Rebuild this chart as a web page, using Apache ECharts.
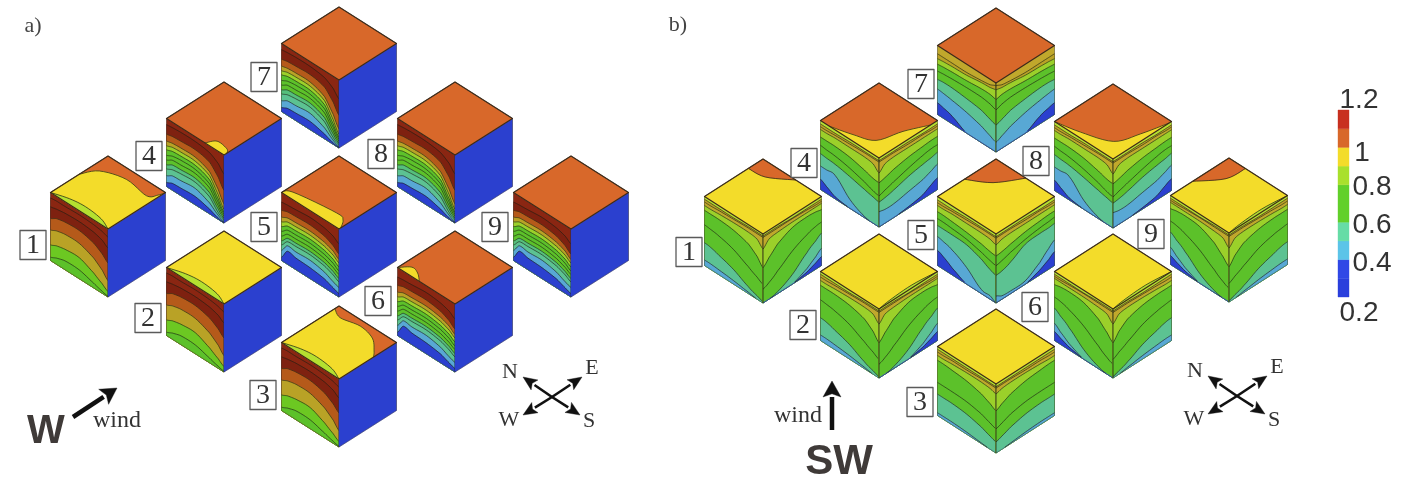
<!DOCTYPE html>
<html><head><meta charset="utf-8">
<style>html,body{margin:0;padding:0;background:#fff}#c{width:1405px;height:479px}</style>
<script src="https://cdn.jsdelivr.net/npm/echarts@6/dist/echarts.min.js"></script>
</head><body><div id="c"></div>
<script>
// ---- palette
const RED='#8a2612', RED2='#7e2110', BROWN='#b55a1a', OLIVE='#b9a226', GOLD='#c0a82c', LIME='#9bd02a', LIME2='#b4e030',
      GREEN='#5cc12a', GREEN2='#6cc822', TEAL='#55bf7c', MINT='#5cc292', SKY='#58a8d4', BLUE='#2b40cf', ORANGE='#d8682a', YELLOW='#f3dc2a';

// ---- fractions along a face: 0 outer edge .. 1 spine edge
const stations=[0,.1,.25,.5,.75,.9,1];

// ---- panel a, left faces (normalised level of each contour at the stations)
const aLowColors=[RED,RED,RED2,BROWN,OLIVE,GREEN2,GREEN];
const aLowLines=[[.92,.93,.93,.94,.93,.91,.88],[.79,.81,.83,.84,.82,.78,.72],[.62,.67,.70,.71,.66,.58,.50],[.45,.49,.52,.52,.44,.34,.24],[.23,.27,.30,.31,.22,.14,.08],[.05,.09,.13,.13,.07,.03,.01]];
const aDeepColors=[RED,RED2,BROWN,OLIVE,LIME,GREEN,GREEN,GREEN,TEAL,MINT,SKY,BLUE];
const aDeepLines=[[.91,.92,.93,.93,.90,.82,.72],[.77,.79,.80,.81,.76,.62,.48],[.67,.69,.70,.70,.62,.44,.28],[.60,.63,.64,.64,.56,.36,.20],[.54,.57,.58,.58,.50,.30,.16],[.46,.50,.52,.52,.44,.25,.13],[.39,.44,.45,.46,.38,.20,.10],[.32,.37,.38,.39,.31,.15,.07],[.26,.30,.32,.33,.25,.10,.05],[.16,.21,.22,.24,.16,.06,.02],[.06,.10,.11,.12,.07,.02,.005]];
const aFlatLines=[[.86,.87,.88,.90,.88,.84,.78],[.74,.77,.78,.79,.76,.70,.63],[.64,.68,.69,.70,.67,.62,.55],[.57,.62,.63,.64,.61,.56,.50],[.50,.56,.57,.58,.55,.50,.44],[.43,.50,.51,.52,.49,.44,.38],[.36,.44,.45,.46,.43,.38,.33],[.29,.38,.39,.40,.37,.32,.27],[.23,.33,.34,.35,.32,.27,.22],[.15,.27,.26,.27,.23,.17,.14],[.05,.19,.17,.16,.13,.08,.05]];

// ---- panel b faces
const bColors=[LIME2,OLIVE,GOLD,LIME,GREEN,GREEN,MINT,SKY,BLUE];
const bWindLines=[[.96,.96,.96,.96,.97,.97,.97],[.92,.92,.93,.94,.95,.95,.95],[.87,.87,.88,.89,.89,.87,.78],[.80,.80,.80,.78,.72,.62,.51],[.59,.58,.56,.50,.39,.32,.27],[.33,.32,.28,.21,.10,.05,.02],[.08,.08,.07,.05,.02,0,0]];
const bCornerLines=[[.96,.96,.96,.96,.97,.97,.97],[.93,.93,.94,.95,.95,.95,.95],[.90,.90,.90,.90,.89,.87,.78],[.81,.83,.84,.82,.72,.60,.51],[.63,.62,.58,.48,.33,.24,.20],[.47,.41,.32,.14,.03,0,0],[.25,.18,.09,0,0,0,0],[.13,.09,.04,0,0,0,0]];
const bMildLines=[[.96,.96,.96,.96,.96,.96,.96],[.92,.92,.93,.93,.94,.94,.94],[.87,.87,.88,.89,.89,.88,.855],[.80,.80,.79,.77,.72,.66,.61],[.48,.48,.48,.47,.43,.38,.35],[.31,.31,.31,.29,.24,.19,.16],[.04,.04,.04,.03,.01,0,0]];
const bDipLeft=[[.95,.95,.95,.96,.96,.96,.96],[.91,.91,.92,.93,.94,.94,.94],[.87,.87,.88,.88,.88,.86,.78],[.76,.76,.76,.74,.69,.65,.64],[.64,.63,.62,.58,.52,.47,.45],[.52,.51,.50,.46,.41,.38,.36],[.34,.34,.34,.13,.02,0,0],[.15,.10,.03,0,0,0,0]];
const bDipRight=[[.95,.95,.95,.96,.96,.96,.96],[.92,.92,.93,.93,.94,.94,.94],[.88,.88,.88,.88,.88,.86,.78],[.77,.77,.76,.74,.70,.66,.64],[.65,.65,.63,.58,.52,.48,.45],[.54,.52,.50,.46,.40,.37,.36],[.37,.33,.28,.24,.20,.20,.22],[.17,.13,.06,.02,0,0,0]];
const bFiveLeft=[[.95,.95,.95,.96,.96,.96,.96],[.91,.91,.92,.93,.94,.94,.94],[.87,.87,.88,.88,.88,.87,.84],[.78,.78,.77,.75,.72,.69,.68],[.68,.68,.67,.65,.60,.56,.54],[.58,.58,.58,.57,.50,.43,.40],[.42,.40,.36,.24,.06,.05,0],[.22,.18,.10,0,0,0,0]];
const bFiveRight=[[.95,.95,.95,.96,.96,.96,.96],[.92,.92,.93,.93,.94,.94,.94],[.88,.88,.88,.88,.88,.87,.84],[.79,.79,.78,.76,.72,.69,.68],[.70,.69,.68,.65,.60,.56,.54],[.61,.60,.60,.58,.46,.41,.40],[.37,.30,.18,.05,.04,.05,.10],[.20,.14,.07,0,0,0,0]];
const bSevenColors=[GOLD,OLIVE,LIME,GREEN,GREEN,MINT,SKY,BLUE];
const bSevenLines=[[.88,.88,.88,.88,.90,.92,.96],[.81,.82,.83,.84,.87,.88,.90],[.73,.74,.75,.76,.78,.78,.76],[.63,.64,.65,.66,.66,.64,.61],[.51,.52,.52,.50,.47,.42,.39],[.37,.36,.34,.30,.24,.18,.14],[.17,.15,.11,0,0,0,0]];

// ---- top faces: contour curves in the (p,q) coordinates of the diamond
const capA1=[[.5,1],[.72,.87],[.84,.52],[.79,.12],[.9,.03],[1,0]];
const sliverA=[[0,1],[.08,.75],[.11,.5],[.08,.2],[0,0]];
const capA3=[[.93,1],[.85,.83],[.91,.54],[.85,.27],[.69,.08],[.6,0]];
const patchA4=[[0,.33],[.13,.25],[.11,.06],[.05,0]];
const stripA5=[[0,1],[.105,.905],[.2,.24],[.16,.09],[.03,0]];
const tipA6=[[0,1],[.13,.88],[.1,.75],[0,.62]];
const capB1=[[.75,1],[.78,.74],[1,.44]];
const capB5=[[.46,1],[.66,.71],[1,.49]];
const capB9=[[.38,1],[.70,.75],[1,.72]];
const dipB4=[[0,.85],[.09,.535],[.21,.26],[.56,.15],[.88,0]];
const dipB8=[[0,1],[.08,.64],[.24,.23],[.57,.1],[.96,0]];
const sliverRight=[[1,0],[.6,.04],[.2,.025],[0,0]];

// ---- cube positions, numbered 1..9
const cubeNumbers=[1,2,3,4,5,6,7,8,9];
const aCubeX=[108,224,339,224,339,455,339,455,571];
const aCubeY=[229,304,379,155,229,304,80,155,229];
const bCubeX=[763,879,996,879,996,1113,996,1113,1229];
const bCubeY=[234,309,384,158,234,309,83,159,233];
const aBoxX=[33,148,263,149,264,378,264,381,495];
const aBoxY=[245,318,395,156,227,301,77,154,227];
const bBoxX=[689,803,920,804,921,1035,921,1036,1151];
const bBoxY=[252,325,402,163,235,307,84,161,234];

// ---- colour bar
const barStops=[.2,.3,.4,.5,.6,.8,.9,1,1.1,1.2];
const barColors=['#2a3fdc','#3048e6','#5cc4e8','#66dca6','#62d02a','#a9e02c','#f3dc2a','#d8682a','#c8301f'];
const barLabels=['1.2','1','0.8','0.6','0.4','0.2'];
const barLabelX=[1359,1362,1372,1372,1372,1359];
const barLabelY=[100,153,187,225,263,313];

// ---- annotation data
const panelTitles=['a)','b)'], panelTitleX=[33,678], panelTitleY=[26,25];
const compassX=[552,1237], compassY=[397,396];
const compassNames=['N','E','W','S'];
const compassDX=[-29,30,-29,28], compassDY=[-20,-20,18,18];
const compassTextDX=[-42,40,-43,37], compassTextDY=[-25,-29,23,24];
const windFromX=[73,832], windFromY=[417,430], windToX=[117,832], windToY=[388,381];
const windTextX=[117,798], windTextY=[421,416];
const sectorNames=['W','SW'], sectorX=[46,839], sectorY=[432,462], sectorSize=[40,42];

// ---- build the marks
const polys=[], texts=[];
function smooth(vals){ // Catmull-Rom through the read stations
  const out=[];
  for(let i=0;i<vals.length-1;i++){
    const p0=vals[Math.max(i-1,0)],p1=vals[i],p2=vals[i+1],p3=vals[Math.min(i+2,vals.length-1)];
    const s0=stations[i],s1=stations[i+1];
    for(let k=0;k<6;k++){
      const u=k/6;
      const v=.5*((2*p1)+(-p0+p2)*u+(2*p0-5*p1+4*p2-p3)*u*u+(-p0+3*p1-3*p2+p3)*u*u*u);
      out.push([s0+(s1-s0)*u,Math.max(0,Math.min(1,v))]);
    }
  }
  out.push([1,vals[vals.length-1]]);
  return out;
}
function smoothPts(pts){
  const out=[];
  for(let i=0;i<pts.length-1;i++){
    const a=pts[Math.max(i-1,0)],b=pts[i],c=pts[i+1],d=pts[Math.min(i+2,pts.length-1)];
    for(let k=0;k<6;k++){
      const u=k/6,f=j=>.5*((2*b[j])+(-a[j]+c[j])*u+(2*a[j]-5*b[j]+4*c[j]-d[j])*u*u+(-a[j]+3*b[j]-3*c[j]+d[j])*u*u*u);
      out.push([f(0),f(1)]);
    }
  }
  out.push(pts[pts.length-1]);
  return out;
}
const LINE='rgba(30,32,20,.8)';
function drawFace(g,side,colors,lines){
  const P=(s,v)=>[g.x+side*g.w*(1-s), g.y-g.t*(1-s)+g.h*(1-v)];
  polys.push({t:'polygon',pts:[P(0,1),P(1,1),P(1,0),P(0,0)],fill:colors[0]});
  lines.forEach((ln,i)=>{
    const c=smooth(ln);
    polys.push({t:'polygon',pts:c.map(a=>P(a[0],a[1])).concat([P(1,0),P(0,0)]),fill:colors[i+1]});
  });
  lines.forEach(ln=>{
    const c=smooth(ln).filter(a=>a[1]>0.002);
    if(c.length>1) polys.push({t:'polyline',pts:c.map(a=>P(a[0],a[1])),stroke:LINE,lw:.8});
  });
  polys.push({t:'polyline',pts:[P(1,1),P(1,0)],stroke:LINE,lw:1});
}
function drawTop(g,base,regions){
  const Q=(p,q)=>[g.x+g.w*(p-q), g.y-g.t*(p+q)];
  polys.push({t:'polygon',pts:[Q(0,0),Q(1,0),Q(1,1),Q(0,1)],fill:base});
  regions.forEach(r=>{
    const c=smoothPts(r.curve).map(a=>Q(Math.max(0,Math.min(1,a[0])),Math.max(0,Math.min(1,a[1]))));
    polys.push({t:'polygon',pts:c.concat(r.corners.map(a=>Q(a[0],a[1]))),fill:r.fill});
    polys.push({t:'polyline',pts:c,stroke:LINE,lw:.9});
  });
  polys.push({t:'polygon',pts:[Q(0,0),Q(1,0),Q(1,1),Q(0,1)],fill:'none',stroke:'#3b2a18',lw:1.2});
}
function outline(g){
  const a=[[g.x,g.y+g.h],[g.x-g.w,g.y-g.t+g.h],[g.x-g.w,g.y-g.t],[g.x,g.y-2*g.t],[g.x+g.w,g.y-g.t],[g.x+g.w,g.y-g.t+g.h]];
  polys.push({t:'polygon',pts:a,fill:'none',stroke:'rgba(58,51,40,.6)',lw:.7});
}
const aFaces=[[aLowColors,aLowLines],[aLowColors,aLowLines],[aLowColors,aLowLines],[aDeepColors,aDeepLines],[aDeepColors,aFlatLines],[aDeepColors,aFlatLines],[aDeepColors,aDeepLines],[aDeepColors,aDeepLines],[aDeepColors,aFlatLines]];
const aTops=[
 [ORANGE,[{fill:YELLOW,curve:capA1,corners:[[0,0],[0,1]]},{fill:LIME2,curve:sliverA,corners:[]}]],
 [YELLOW,[{fill:LIME2,curve:sliverA,corners:[]}]],
 [ORANGE,[{fill:YELLOW,curve:capA3,corners:[[0,0],[0,1]]},{fill:LIME2,curve:sliverA,corners:[]}]],
 [ORANGE,[{fill:YELLOW,curve:patchA4,corners:[[0,0]]}]],
 [ORANGE,[{fill:YELLOW,curve:stripA5,corners:[[0,0]]}]],
 [ORANGE,[{fill:YELLOW,curve:tipA6,corners:[]}]],
 [ORANGE,[]],[ORANGE,[]],[ORANGE,[]]];
const bLeft=[bWindLines,bWindLines,bMildLines,bDipLeft,bFiveLeft,bCornerLines,bSevenLines,bDipLeft,bCornerLines];
const bRight=[bCornerLines,bCornerLines,bMildLines,bDipRight,bFiveRight,bWindLines,bSevenLines,bDipRight,bWindLines];
const bTops=[
 [YELLOW,[{fill:ORANGE,curve:capB1,corners:[[1,1]]}]],
 [YELLOW,[{fill:LIME2,curve:sliverRight,corners:[]}]],
 [YELLOW,[]],
 [ORANGE,[{fill:YELLOW,curve:dipB4,corners:[[0,0]]}]],
 [YELLOW,[{fill:ORANGE,curve:capB5,corners:[[1,1]]}]],
 [YELLOW,[{fill:LIME2,curve:sliverRight,corners:[]}]],
 [ORANGE,[]],
 [ORANGE,[{fill:YELLOW,curve:dipB8,corners:[[0,0]]}]],
 [YELLOW,[{fill:ORANGE,curve:capB9,corners:[[1,1]]},{fill:LIME2,curve:sliverRight,corners:[]}]]];

cubeNumbers.forEach((n,i)=>{
  const g={x:aCubeX[i],y:aCubeY[i],w:57.5,t:36.5,h:68};
  drawFace(g,-1,aFaces[i][0],aFaces[i][1]);
  polys.push({t:'polygon',pts:[[g.x,g.y],[g.x+g.w,g.y-g.t],[g.x+g.w,g.y-g.t+g.h],[g.x,g.y+g.h]],fill:BLUE});
  drawTop(g,aTops[i][0],aTops[i][1]); outline(g);
  const b={x:bCubeX[i],y:bCubeY[i],w:58.5,t:37.5,h:69};
  const col=bLeft[i]===bSevenLines?bSevenColors:bColors;
  drawFace(b,-1,col,bLeft[i]);
  drawFace(b,1,col,bRight[i]);
  drawTop(b,bTops[i][0],bTops[i][1]); outline(b);
  [[aBoxX,aBoxY],[bBoxX,bBoxY]].forEach(a=>{
    const X=a[0][i],Y=a[1][i];
    polys.push({t:'polygon',pts:[[X-13,Y-14.5],[X+13,Y-14.5],[X+13,Y+14.5],[X-13,Y+14.5]],fill:'#fff',stroke:'#5a5a5a',lw:1.3});
    texts.push({x:X,y:Y+1,s:String(n),f:'28px "Liberation Serif"',c:'#333'});
  });
});
function arrow(x0,y0,x1,y1,lw,hl,hw){
  const L=Math.hypot(x1-x0,y1-y0),ux=(x1-x0)/L,uy=(y1-y0)/L,nx=-uy,ny=ux;
  const bx=x1-ux*hl,by=y1-uy*hl;
  polys.push({t:'polyline',pts:[[x0,y0],[bx,by]],stroke:'#111',lw:lw});
  polys.push({t:'polygon',pts:[[x1,y1],[bx+nx*hw,by+ny*hw],[bx+ux*hl*.2,by+uy*hl*.2],[bx-nx*hw,by-ny*hw]],fill:'#111'});
}
compassX.forEach((cx,k)=>{
  compassNames.forEach((nm,i)=>{
    arrow(cx,compassY[k],cx+compassDX[i],compassY[k]+compassDY[i],2.6,14,6);
    texts.push({x:cx+compassTextDX[i],y:compassY[k]+compassTextDY[i],s:nm,f:'22px "Liberation Serif"',c:'#333'});
  });
});
windFromX.forEach((x,k)=>{
  arrow(x,windFromY[k],windToX[k],windToY[k],4.5,16,9);
  texts.push({x:windTextX[k],y:windTextY[k],s:'wind',f:'24px "Liberation Serif"',c:'#333'});
  texts.push({x:sectorX[k],y:sectorY[k],s:sectorNames[k],f:'bold '+sectorSize[k]+'px "Liberation Sans"',c:'#3f3a38'});
  texts.push({x:panelTitleX[k],y:panelTitleY[k],s:panelTitles[k],f:'22px "Liberation Serif"',c:'#444'});
});
const barY=v=>297-(v-.2)*187;
barColors.forEach((c,i)=>{
  polys.push({t:'polygon',pts:[[1338,barY(barStops[i])],[1349,barY(barStops[i])],[1349,barY(barStops[i+1])],[1338,barY(barStops[i+1])]],fill:c});
});
barLabels.forEach((s,i)=>texts.push({x:barLabelX[i],y:barLabelY[i],s:s,f:'28px "Liberation Sans"',c:'#333'}));

const chart=echarts.init(document.getElementById('c'),null,{renderer:'canvas'});
chart.setOption({
  animation:false,
  grid:{left:0,right:0,top:0,bottom:0},
  xAxis:{type:'value',min:0,max:1405,show:false},
  yAxis:{type:'value',min:0,max:479,inverse:true,show:false},
  series:[
   {type:'custom',silent:true,clip:false,coordinateSystem:'cartesian2d',data:polys.map((p,i)=>[i]),encode:{x:0},
    renderItem:(params,api)=>{
      const p=polys[api.value(0)];
      return {type:p.t,shape:{points:p.pts.map(c=>api.coord(c))},
        style:{fill:p.t==='polyline'?null:(p.fill==='none'?null:p.fill),stroke:p.stroke||(p.t==='polygon'&&p.fill!=='none'?p.fill:null),lineWidth:p.lw||.4,lineJoin:'round'}};
    }},
   {type:'custom',silent:true,clip:false,coordinateSystem:'cartesian2d',data:texts.map((p,i)=>[i]),encode:{x:0},
    renderItem:(params,api)=>{
      const t=texts[api.value(0)],c=api.coord([t.x,t.y]);
      return {type:'text',x:c[0],y:c[1],style:{text:t.s,font:t.f,fill:t.c,align:'center',verticalAlign:'middle'}};
    }}
  ]
});
</script></body></html>
